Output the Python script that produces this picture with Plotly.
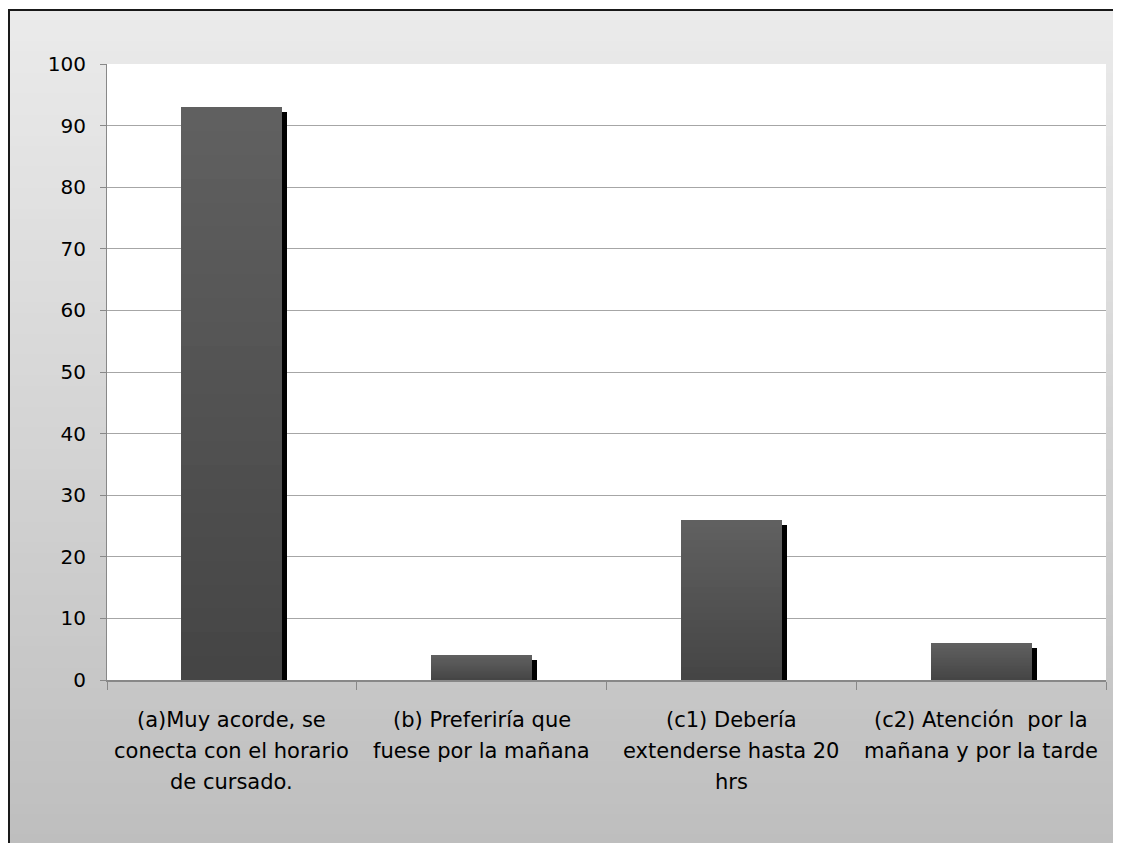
import plotly.graph_objects as go

categories = ["a", "b", "c1", "c2"]
values = [93, 4, 26, 6]
label_lines = [
    ["(a)Muy acorde, se", "conecta con el horario", "de cursado."],
    ["(b) Preferiría que", "fuese por la mañana"],
    ["(c1) Debería", "extenderse hasta 20", "hrs"],
    ["(c2) Atención  por la", "mañana y por la tarde"],
]
y_ticks = [0, 10, 20, 30, 40, 50, 60, 70, 80, 90, 100]

# page has an 8px body margin; figure is placed at (8, 8)
OFF = 8
W, H = 1121 - OFF, 843 - OFF
ml, mr, mt, mb = 107 - OFF, 15, 64 - OFF, 163
pw, ph = W - ml - mr, H - mt - mb

BAR_W = 0.405
SHADOW_DX = 5 / (pw / 4)          # 5 px to the right, in category units
SHADOW_DY = 5 / (ph / 100)        # 5 px down, in value units
FONT = "DejaVu Sans"

fig = go.Figure()

# shadow
fig.add_trace(go.Bar(
    x=categories, y=[max(v - SHADOW_DY, 0) for v in values],
    width=BAR_W, offset=-BAR_W / 2 + SHADOW_DX,
    marker=dict(color="#000000", line=dict(width=0)),
    hoverinfo="skip", showlegend=False,
))

# gradient bars: stacked overlay layers, lighter at top, darker at bottom
N = 24
top_c, bot_c = 0x60, 0x44
for k in range(N, 0, -1):
    frac = k / N
    c = int(round(bot_c + (top_c - bot_c) * frac))
    col = f"rgb({c},{c},{c})"
    fig.add_trace(go.Bar(
        x=categories, y=[v * frac for v in values],
        width=BAR_W, offset=-BAR_W / 2,
        marker=dict(color=col, line=dict(width=0)),
        hoverinfo="skip" if k < N else None, showlegend=False,
    ))

# page pixel -> paper coords
def pxp(x):
    return (x - OFF - ml) / pw

def pyp(y):
    return (H - mb - (y - OFF)) / ph

shapes = []
y_top, y_bot = 10, 843 + 2
steps = 80
for i in range(steps):
    ya = y_top + (y_bot - y_top) * i / steps
    yb = y_top + (y_bot - y_top) * (i + 1) / steps + 1
    t = (i + 0.5) / steps
    c = int(round(235 - 45 * t))
    shapes.append(dict(
        type="rect", xref="paper", yref="paper", layer="below",
        x0=pxp(OFF - 2), x1=pxp(1121 + 10), y0=pyp(yb), y1=pyp(ya),
        line=dict(width=0), fillcolor=f"rgb({c},{c},{c})",
    ))
# plot area white
shapes.append(dict(type="rect", xref="paper", yref="paper", layer="below",
                   x0=0, x1=1, y0=0, y1=1, line=dict(width=0), fillcolor="white"))
# border (top and left)
shapes.append(dict(type="line", xref="paper", yref="paper", layer="above",
                   x0=pxp(OFF), x1=pxp(1121 + 10), y0=pyp(10), y1=pyp(10),
                   line=dict(color="#1a1a1a", width=2)))
shapes.append(dict(type="line", xref="paper", yref="paper", layer="above",
                   x0=pxp(OFF + 1), x1=pxp(OFF + 1), y0=pyp(9), y1=pyp(843 + 10),
                   line=dict(color="#1a1a1a", width=2)))

annotations = []
for cat, lines in zip(categories, label_lines):
    for j, line in enumerate(lines):
        annotations.append(dict(
            x=cat, xref="x", y=0, yref="paper", text=line, showarrow=False,
            yanchor="middle", xanchor="center", yshift=-(40 + 31 * j),
            font=dict(family=FONT, size=21, color="#000000"),
        ))

fig.update_layout(
    width=W, height=H,
    margin=dict(l=ml, r=mr, t=mt, b=mb, pad=0),
    paper_bgcolor="white", plot_bgcolor="rgba(0,0,0,0)",
    barmode="overlay", bargap=0,
    shapes=shapes, annotations=annotations,
    font=dict(family=FONT, size=20, color="#000000"),
    showlegend=False,
)
fig.update_xaxes(
    type="category", categoryorder="array", categoryarray=categories,
    range=[-0.5, 3.5], showticklabels=False,
    tickson="boundaries", ticks="outside", ticklen=8, tickcolor="#888888", tickwidth=1,
    showline=True, linecolor="#888888", linewidth=2, showgrid=False, zeroline=False,
)
fig.update_yaxes(
    range=[0, 100], tickvals=y_ticks, ticktext=[str(v) for v in y_ticks],
    ticks="outside", ticklen=6, tickcolor="#888888", tickwidth=1,
    ticklabelstandoff=10,
    showline=True, linecolor="#888888", linewidth=1,
    showgrid=True, gridcolor="#A6A6A6", gridwidth=1, zeroline=False,
    tickfont=dict(family=FONT, size=20, color="#000000"),
)

fig.write_html("out.html")
